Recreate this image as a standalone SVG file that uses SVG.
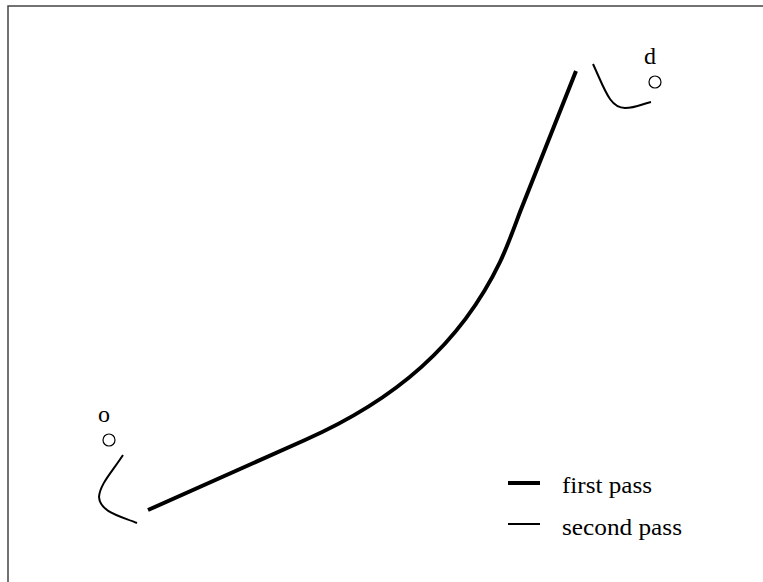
<svg xmlns="http://www.w3.org/2000/svg" width="763" height="582" viewBox="0 0 763 582">
<style>
.thick{fill:none;stroke:#000;stroke-width:4}
.thin{fill:none;stroke:#000;stroke-width:2}
.lbl{font-family:"Liberation Serif","Times New Roman",serif;font-size:24px;fill:#000}
.pt{fill:#fff;stroke:#000;stroke-width:1.2}
</style>
<rect width="763" height="582" fill="#fff"/>
<path d="M8,582 V6 H763" fill="none" stroke="#444" stroke-width="1.5"/>
<g id="connectors">
<path class="thick" d="M148,510 L305,440 C395,400 460,345 500,262 C508,245 514,228 520,212 L576,71"/>
<path class="thin" d="M123,455 C112,472 100,484 99,497 C100,512 120,516 137,523"/>
<path class="thin" d="M593,64 C605,90 610,108 625,108 C636,108 642,104 651,102"/>
</g>
<g id="node-o">
<text class="lbl" x="104" y="422" text-anchor="middle">o</text>
<circle class="pt" cx="109" cy="440" r="6"/>
</g>
<g id="node-d">
<text class="lbl" x="650" y="64" text-anchor="middle">d</text>
<circle class="pt" cx="655" cy="82" r="6"/>
</g>
<g id="legend">
<line class="thick" x1="508" y1="483" x2="540" y2="483"/>
<line class="thin" x1="508" y1="524" x2="540" y2="524"/>
<text class="lbl" x="562" y="493" textLength="90" lengthAdjust="spacingAndGlyphs">first pass</text>
<text class="lbl" x="562" y="535" textLength="120" lengthAdjust="spacingAndGlyphs">second pass</text>
</g>
</svg>
